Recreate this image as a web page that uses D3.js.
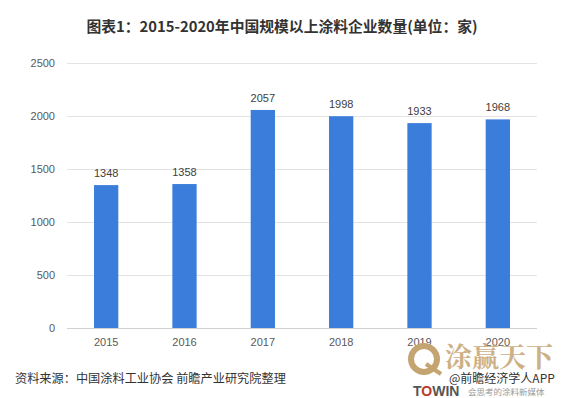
<!DOCTYPE html>
<meta charset="utf-8">
<head>
  <style>
    body { margin: 0; background: #fff; }
    svg { font-family: "Noto Sans CJK SC", "Microsoft YaHei", sans-serif; }
    .title { font-size: 14.8px; font-weight: bold; fill: #333; }
    .tick text { font-size: 11px; fill: #595959; font-family: "Liberation Sans", Arial, sans-serif; }
    .vlabel { font-size: 11px; fill: #404040; font-family: "Liberation Sans", Arial, sans-serif; }
    .source { font-size: 12.2px; fill: #333; }
  </style>
</head>
<body>
<div id="chart"></div>
<script src="https://d3js.org/d3.v7.min.js"></script>
<script>

var years = ["2015", "2016", "2017", "2018", "2019", "2020"];
var counts = [1348, 1358, 2057, 1998, 1933, 1968];
var yTicks = [0, 500, 1000, 1500, 2000, 2500];

var width = 562, height = 398;
var plotLeft = 67, plotRight = 537, plotTop = 63, plotBottom = 328;

var svg = d3.select("#chart").append("svg")
    .attr("width", width)
    .attr("height", height);

var x = d3.scaleBand()
    .domain(years)
    .range([plotLeft, plotRight])
    .paddingInner(0.69)
    .paddingOuter(0.345);

var y = d3.scaleLinear()
    .domain([0, 2500])
    .range([plotBottom, plotTop]);

// gridlines
svg.append("g").selectAll("line")
    .data(yTicks)
  .enter().append("line")
    .attr("x1", plotLeft)
    .attr("x2", plotRight)
    .attr("y1", function(d) { return Math.round(y(d)) + 0.5; })
    .attr("y2", function(d) { return Math.round(y(d)) + 0.5; })
    .attr("stroke", function(d) { return d == 0 ? "#d0d0d0" : "#e3e3e3"; })
    .attr("stroke-width", 1);

var yAxis = svg.append("g")
    .attr("transform", "translate(" + (plotLeft - 10) + ",0)")
    .call(d3.axisLeft(y).tickValues(yTicks).tickSize(0).tickPadding(2).tickFormat(d3.format("d")));
yAxis.select(".domain").remove();

var xAxis = svg.append("g")
    .attr("transform", "translate(0," + (plotBottom + 8) + ")")
    .call(d3.axisBottom(x).tickSize(0).tickPadding(2));
xAxis.select(".domain").remove();

// bars
svg.append("g").selectAll("rect")
    .data(counts)
  .enter().append("rect")
    .attr("x", function(d, i) { return x(years[i]); })
    .attr("y", function(d) { return y(d); })
    .attr("width", x.bandwidth())
    .attr("height", function(d) { return plotBottom - y(d); })
    .attr("fill", "#3b7ddb");

svg.append("g").selectAll("text")
    .data(counts)
  .enter().append("text")
    .attr("class", "vlabel")
    .attr("x", function(d, i) { return x(years[i]) + x.bandwidth() / 2; })
    .attr("y", function(d) { return y(d) - 8; })
    .attr("text-anchor", "middle")
    .text(function(d) { return d; });

svg.append("text")
    .attr("class", "title")
    .attr("x", 282)
    .attr("y", 32)
    .attr("text-anchor", "middle")
    .text("图表1：2015-2020年中国规模以上涂料企业数量(单位：家)");

svg.append("text")
    .attr("class", "source")
    .attr("x", 15)
    .attr("y", 383)
    .text("资料来源：中国涂料工业协会 前瞻产业研究院整理");

// logo bottom right
var logo = svg.append("g");
logo.append("circle")
    .attr("cx", 424).attr("cy", 359).attr("r", 13)
    .attr("fill", "none").attr("stroke", "#c4a471").attr("stroke-width", 6);
logo.append("path")
    .attr("d", "M426,364 L441,374")
    .attr("stroke", "#c4a471").attr("stroke-width", 4);
logo.append("text")
    .attr("x", 445).attr("y", 367)
    .attr("font-size", 27).attr("font-weight", "bold")
    .attr("font-family", "Noto Serif CJK SC, Noto Sans CJK SC, serif")
    .attr("fill", "#c8a878").attr("opacity", 0.9)
    .text("涂赢天下");
logo.append("text")
    .attr("x", 449).attr("y", 383)
    .attr("font-size", 12).attr("fill", "#333")
    .text("@前瞻经济学人APP");
var towin = logo.append("text")
    .attr("x", 413).attr("y", 396)
    .attr("font-size", 14).attr("font-weight", "bold")
    .attr("font-family", "Liberation Sans, Arial, sans-serif")
    .attr("fill", "#555");
towin.append("tspan").text("T");
towin.append("tspan").attr("fill", "#c0392b").text("O");
towin.append("tspan").text("WIN");
logo.append("text")
    .attr("x", 468).attr("y", 395)
    .attr("font-size", 8.5).attr("fill", "#999")
    .text("会思考的涂料新媒体");

</script>
</body>
